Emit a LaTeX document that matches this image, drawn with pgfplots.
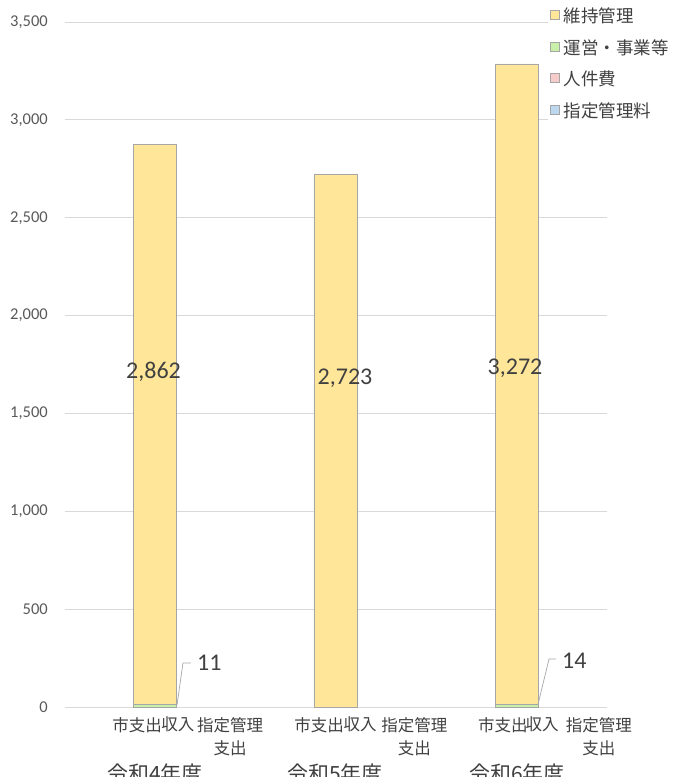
\documentclass[border=0pt]{standalone}
\usepackage{fontspec}
\setmainfont{Carlito}
\newfontfamily\cjk{Noto Sans CJK JP}
\usepackage{pgfplots}
\pgfplotsset{compat=1.18}

\definecolor{iji}{HTML}{FFE699}
\definecolor{unei}{HTML}{C9F0A8}
\definecolor{jinken}{HTML}{F8CBCB}
\definecolor{shitei}{HTML}{BDD7EE}
\definecolor{edge}{HTML}{A6A6A6}
\definecolor{gridc}{HTML}{D9D9D9}
\definecolor{tickc}{HTML}{595959}
\definecolor{labc}{HTML}{404040}

\begin{document}
\begin{tikzpicture}[x=1pt,y=1pt]
\useasboundingbox (0,0) rectangle (685,777);
\begin{axis}[
  at={(65pt,70pt)}, anchor=south west,
  width=542pt, height=685pt, scale only axis,
  xmin=0, xmax=9, ymin=0, ymax=3500,
  ybar stacked, bar width=43pt,
  clip=false,
  axis line style={draw=none},
  major tick length=0pt,
  ytick={0,500,...,3500},
  scaled y ticks=false,
  ymajorgrids, grid style={draw=gridc, line width=0.9pt},
  /pgf/number format/.cd, 1000 sep={,}, assume math mode=true,
  /pgfplots/.cd,
  yticklabel style={font=\fontsize{16.5}{16.5}\selectfont, text=tickc, anchor=east, inner sep=0pt, xshift=-17pt},
  xtick={1.196,1.876,2.740,4.218,4.900,5.800,7.273,7.921,8.867},
  xticklabels={市支出,収入,指定管理\\支出,市支出,収入,指定管理\\支出,市支出,収入,指定管理\\支出},
  xticklabel style={font=\cjk\fontsize{16.5}{23}\selectfont, text=labc, align=center, anchor=north, inner sep=0pt, yshift=-10pt},
  reverse legend,
  legend cell align=left,
  legend image code/.code={\draw[#1, draw=edge, line width=0.6pt] (0pt,-3.5pt) rectangle (9pt,5.5pt);},
  legend style={at={(rel axis cs:0.891,1.0321)}, anchor=north west, draw=none, fill=white,
    font=\cjk\fontsize{17.5}{17.5}\selectfont, text=labc, inner xsep=2pt, inner ysep=0pt,
    row sep=0pt, nodes={inner sep=1pt, minimum height=31.5pt},
    /tikz/every odd column/.append style={column sep=3pt}},
  every axis plot/.append style={draw=edge, line width=0.75pt},
  after end axis/.code={
    % data labels
    \node[font=\fontsize{24}{24}\selectfont, text=labc] at (axis cs:1.470,1712) {2,862};
    \node[font=\fontsize{24}{24}\selectfont, text=labc] at (axis cs:4.650,1681) {2,723};
    \node[font=\fontsize{24}{24}\selectfont, text=labc] at (axis cs:7.473,1732) {3,272};
    \draw[edge, line width=0.7pt] (axis cs:1.860,10) -- (axis cs:1.959,225) -- (axis cs:2.092,225);
    \node[font=\fontsize{24}{24}\selectfont, text=labc, anchor=west, inner sep=0pt] at (axis cs:2.192,225) {11};
    \draw[edge, line width=0.7pt] (axis cs:7.854,13) -- (axis cs:8.037,245) -- (axis cs:8.153,245);
    \node[font=\fontsize{24}{24}\selectfont, text=labc, anchor=west, inner sep=0pt] at (axis cs:8.253,235) {14};
    % group labels
    \node[font=\cjk\fontsize{21}{21}\selectfont, text=labc, anchor=north] at (axis cs:1.494,-270) {令和4年度};
    \node[font=\cjk\fontsize{21}{21}\selectfont, text=labc, anchor=north] at (axis cs:4.483,-270) {令和5年度};
    \node[font=\cjk\fontsize{21}{21}\selectfont, text=labc, anchor=north] at (axis cs:7.506,-270) {令和6年度};
  },
]
\addplot[fill=shitei] coordinates {(1.5,0) (4.5,0) (7.5,0)};
\addlegendentry{指定管理料}
\addplot[fill=jinken] coordinates {(1.5,0) (4.5,0) (7.5,0)};
\addlegendentry{人件費}
\addplot[fill=unei] coordinates {(1.5,11) (4.5,0) (7.5,14)};
\addlegendentry{運営・事業等}
\addplot[fill=iji] coordinates {(1.5,2862) (4.5,2723) (7.5,3272)};
\addlegendentry{維持管理}
\end{axis}
\end{tikzpicture}
\end{document}
